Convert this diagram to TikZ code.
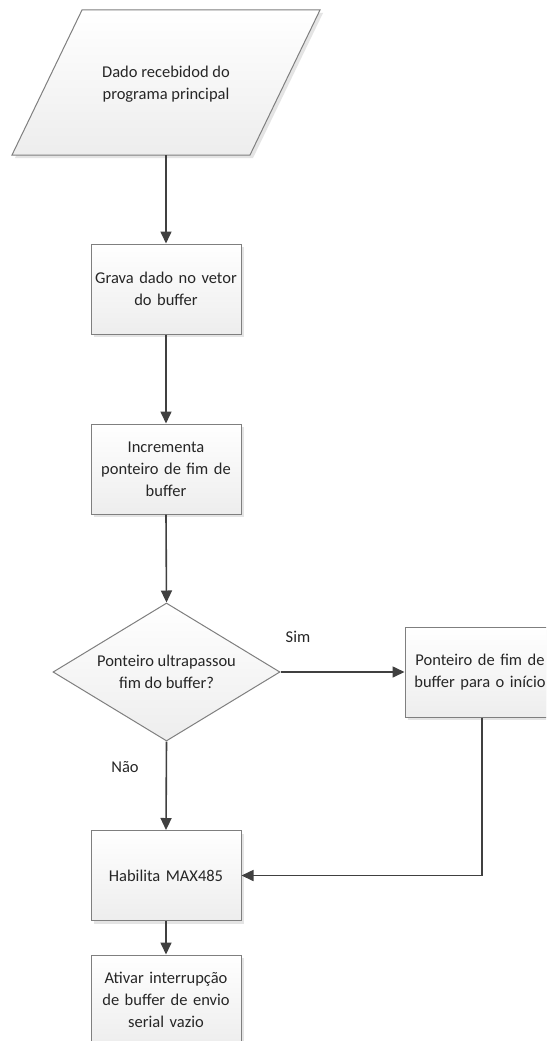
\documentclass[tikz,border=0pt]{standalone}
\usepackage{fontspec}
\setmainfont{Carlito}
\usetikzlibrary{arrows.meta,shapes.geometric,shadows}
\definecolor{edgegray}{HTML}{7F7F7F}
\definecolor{linegray}{HTML}{404040}
\definecolor{textgray}{HTML}{262626}
\begin{document}
\begin{tikzpicture}[x=1pt,y=-1pt,
  font=\fontsize{16.5}{22}\selectfont, text=textgray,
  procbox/.style={draw=edgegray, line width=1pt, top color=white, bottom color=gray!14,
    minimum width=150pt, minimum height=90pt, text width=145pt, align=center, inner sep=0pt,
    drop shadow={shadow xshift=3pt, shadow yshift=-3pt, fill=gray!35, opacity=0.6}},
  decision/.style={draw=edgegray, line width=1pt, diamond, shape aspect=1.645, top color=white, bottom color=gray!14,
    minimum width=227pt, minimum height=138pt, inner sep=0pt, align=center},
  flow/.style={draw=linegray, line width=1.6pt, -{Triangle[width=11pt,length=12pt]}},
  lbl/.style={text=textgray}
]
\useasboundingbox (0,0) rectangle (546,1041);
\clip (0,0) rectangle (546,1041);
\fill[white] (0,0) rectangle (546,1041);

% input parallelogram
\fill[gray!35, opacity=0.6] (85,13) -- (323,13) -- (253,158) -- (15,158) -- cycle;
\shade[top color=white, bottom color=gray!14] (82,10) -- (320,10) -- (250,155) -- (12,155) -- cycle;
\draw[edgegray, line width=1pt] (82,10) -- (320,10) -- (250,155) -- (12,155) -- cycle;
\node[align=center] (input) at (166,84) {Dado recebidod do\\programa principal};
\coordinate (inbot) at (166,155);

\node[procbox] (grava) at (166,289) {Grava dado no vetor\\do buffer};
\node[procbox] (incr) at (166,469) {Incrementa\\ponteiro de fim de\\buffer};
\node[decision] (dec) at (166.5,672) {Ponteiro ultrapassou\\fim do buffer?};
\node[procbox] (reset) at (480,672) {Ponteiro de fim de\\buffer para o início};
\node[procbox] (hab) at (166,875.5) {Habilita MAX485};
\node[procbox] (ativ) at (166,1000) {Ativar interrupção\\de buffer de envio\\serial vazio};

\draw[flow] (inbot) -- (grava.north);
\draw[flow] (grava.south) -- (incr.north);
\draw[flow] (incr.south) -- (dec.north);
\draw[flow] (dec.east) -- (reset.west);
\draw[flow] (dec.south) -- (hab.north);
\draw[flow] (reset.south -| 482,0) |- (hab.east);
\draw[flow] (hab.south) -- (ativ.north);

\node[lbl] (sim) at (298,637) {Sim};
\node[lbl] (nao) at (125,767) {Não};
\end{tikzpicture}
\end{document}
